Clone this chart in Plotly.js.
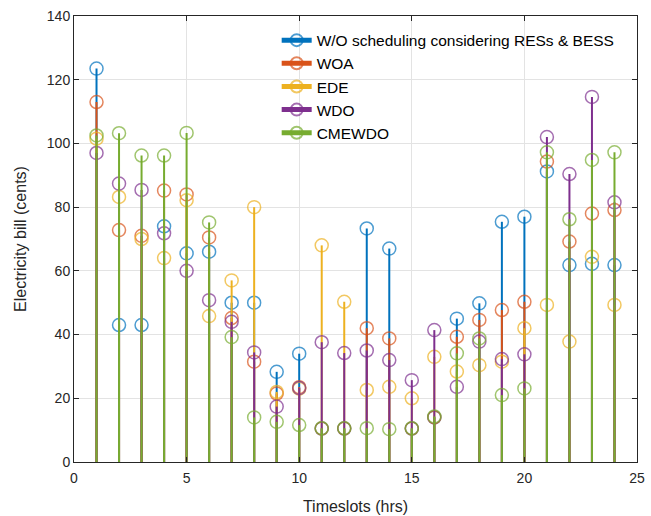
<!DOCTYPE html>
<html>
<head>
<meta charset="utf-8">
<script src="https://cdn.plot.ly/plotly-3.0.1.min.js"></script>
<style>html,body{margin:0;padding:0;background:#fff;}#chart{width:651px;height:516px;}</style>
</head>
<body>
<div id="chart"></div>
<script>
const timeslots = [1,2,3,4,5,6,7,8,9,10,11,12,13,14,15,16,17,18,19,20,21,22,23,24];
const seriesNames = ["W/O scheduling considering RESs & BESS","WOA","EDE","WDO","CMEWDO"];
const woScheduling = [123.5,43,43,74,65.5,66,50,50,28.3,34,10.5,10.5,73.3,67,10.5,14,45,49.8,75.4,77,91.2,61.8,62.2,61.8];
const woa = [113,72.8,71,85.2,84,70.5,45.2,31.5,21.5,23.5,10.5,10.5,42,38.8,10.5,14,39.3,44.6,47.7,50.3,94.3,69.2,78,79.1];
const ede = [101.5,83.2,70,64,82.2,45.8,57,80,22,23,68,50.3,22.6,23.6,20,33,28.4,30.4,31.5,42,49.3,37.8,64.4,49.3];
const wdo = [97,87.4,85.4,71.8,60,50.8,44,34.4,17.4,23.2,37.6,34.2,35,32,25.7,41.4,23.6,37.8,32.3,33.8,102,90.4,114.6,81.5];
const cmewdo = [102.5,103.2,96.2,96.2,103.3,75.2,39.2,14,12.6,11.6,10.6,10.6,10.6,10.3,10.6,14.3,34.1,38.8,21,23.1,97.2,76.2,94.8,97.2];
const colors = ["#0072BD","#D95319","#EDB120","#7E2F8E","#77AC30"];

const allSeries = [woScheduling, woa, ede, wdo, cmewdo];
const traces = allSeries.map((vals, i) => {
  const x = [], y = [], sz = [];
  timeslots.forEach((t, k) => {
    x.push(t, t, null);
    y.push(0, vals[k], null);
    sz.push(0, 13, 0);
  });
  return {
    type: 'scatter', mode: 'lines+markers', name: seriesNames[i],
    x: x, y: y, connectgaps: false,
    line: {color: colors[i], width: 2},
    marker: {symbol: 'circle-open', size: sz, color: colors[i], line: {width: 1.5, color: colors[i]}},
    hoverinfo: 'x+y'
  };
});

const fam = 'Liberation Sans, Arial, sans-serif';
const axisCommon = {
  showline: true, linecolor: '#262626', linewidth: 1, mirror: 'ticks',
  ticks: 'inside', ticklen: 5, tickcolor: '#262626', tickwidth: 1,
  showgrid: true, gridcolor: '#e3e3e3', gridwidth: 1, zeroline: false,
  tickfont: {family: fam, size: 14, color: '#262626'}
};

const layout = {
  width: 651, height: 516,
  margin: {l: 74, r: 14, t: 16, b: 54},
  paper_bgcolor: '#fff', plot_bgcolor: '#fff',
  showlegend: true,
  legend: {x: 0.36, y: 0.983, xanchor: 'left', yanchor: 'top', bgcolor: 'rgba(0,0,0,0)',
           borderwidth: 0, itemsizing: 'constant', tracegroupgap: 0,
           font: {family: fam, size: 15.5, color: '#000'}},
  xaxis: Object.assign({}, axisCommon, {range: [0, 25], dtick: 5, tick0: 0, ticklabelstandoff: 3,
    title: {text: 'Timeslots (hrs)', font: {family: fam, size: 16, color: '#262626'}, standoff: 16}}),
  yaxis: Object.assign({}, axisCommon, {range: [0, 140], dtick: 20, tick0: 0,
    title: {text: 'Electricity bill (cents)', font: {family: fam, size: 16, color: '#262626'}, standoff: 16}})
};

Plotly.newPlot('chart', traces, layout, {displayModeBar: false, staticPlot: true});
</script>
</body>
</html>
